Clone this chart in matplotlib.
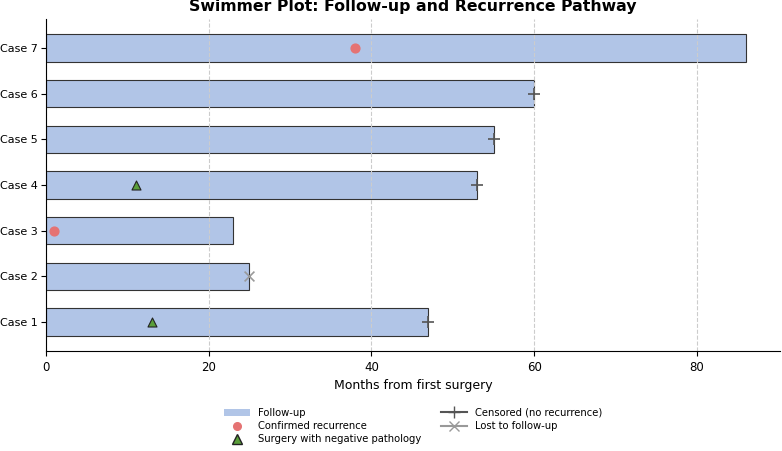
import matplotlib
matplotlib.use("Agg")
import matplotlib.pyplot as plt
from matplotlib.patches import Patch
from matplotlib.lines import Line2D

cases = ["Case 1", "Case 2", "Case 3", "Case 4", "Case 5", "Case 6", "Case 7"]
follow_up = [47, 25, 23, 53, 55, 60, 86]

# events: (case index, month)
recurrence = [(2, 1), (6, 38)]
neg_surgery = [(0, 13), (3, 11)]
censored = [(0, 47), (3, 53), (4, 55), (5, 60)]
lost = [(1, 25)]

bar_color = "#b1c5e7"

fig = plt.figure(figsize=(7.82, 4.51), dpi=100)
ax = fig.add_axes([46 / 782, 1 - 351 / 451, (780 - 46) / 782, (351 - 19) / 451])

y = range(len(cases))
ax.barh(y, follow_up, height=0.6, color=bar_color, edgecolor="#333333", linewidth=0.8, zorder=1)

ax.scatter([m for _, m in recurrence], [c for c, _ in recurrence], color="#e57373", s=40, zorder=4)
ax.scatter([m for _, m in neg_surgery], [c for c, _ in neg_surgery], marker="^", color="#5a9e3a",
           edgecolor="#222222", linewidths=0.8, s=42, zorder=4)
ax.scatter([m for _, m in censored], [c for c, _ in censored], marker="+", color="#555555",
           s=70, linewidths=1.2, zorder=4)
ax.scatter([m for _, m in lost], [c for c, _ in lost], marker="x", color="#999999",
           s=50, linewidths=1.2, zorder=4)

ax.set_yticks(list(y))
ax.set_yticklabels(cases, fontsize=8)
ax.tick_params(axis="y", pad=2.5)
ax.set_xlim(0, 90.2)
ax.set_ylim(-0.63, 6.63)
ax.set_xticks([0, 20, 40, 60, 80])
ax.tick_params(axis="x", labelsize=8.5)
ax.set_xlabel("Months from first surgery", fontsize=9, labelpad=4)
ax.xaxis.grid(True, linestyle="--", color="#cccccc", linewidth=0.8)
for s in ["top", "right"]:
    ax.spines[s].set_visible(False)

fig.text((46 + 780) / 2 / 782, 1 - 7 / 451, "Swimmer Plot: Follow-up and Recurrence Pathway",
         ha="center", va="center", fontsize=11.3, fontweight="bold")

handles = [
    Patch(facecolor=bar_color, label="Follow-up"),
    Line2D([], [], marker="o", color="#e57373", linestyle="none", markersize=5.5, label="Confirmed recurrence"),
    Line2D([], [], marker="^", color="#5a9e3a", markeredgecolor="#222222", linestyle="none", markersize=6.5,
           label="Surgery with negative pathology"),
    Line2D([], [], marker="+", color="#555555", markersize=9, label="Censored (no recurrence)"),
    Line2D([], [], marker="x", color="#999999", markersize=7, label="Lost to follow-up"),
]
fig.legend(handles=handles, loc="center", bbox_to_anchor=(0.528, 1 - 426 / 451), ncol=2,
           frameon=False, fontsize=7.2, columnspacing=2.0, handlelength=2.6, handletextpad=0.8,
           labelspacing=0.35)

fig.savefig("out.png", dpi=100)
